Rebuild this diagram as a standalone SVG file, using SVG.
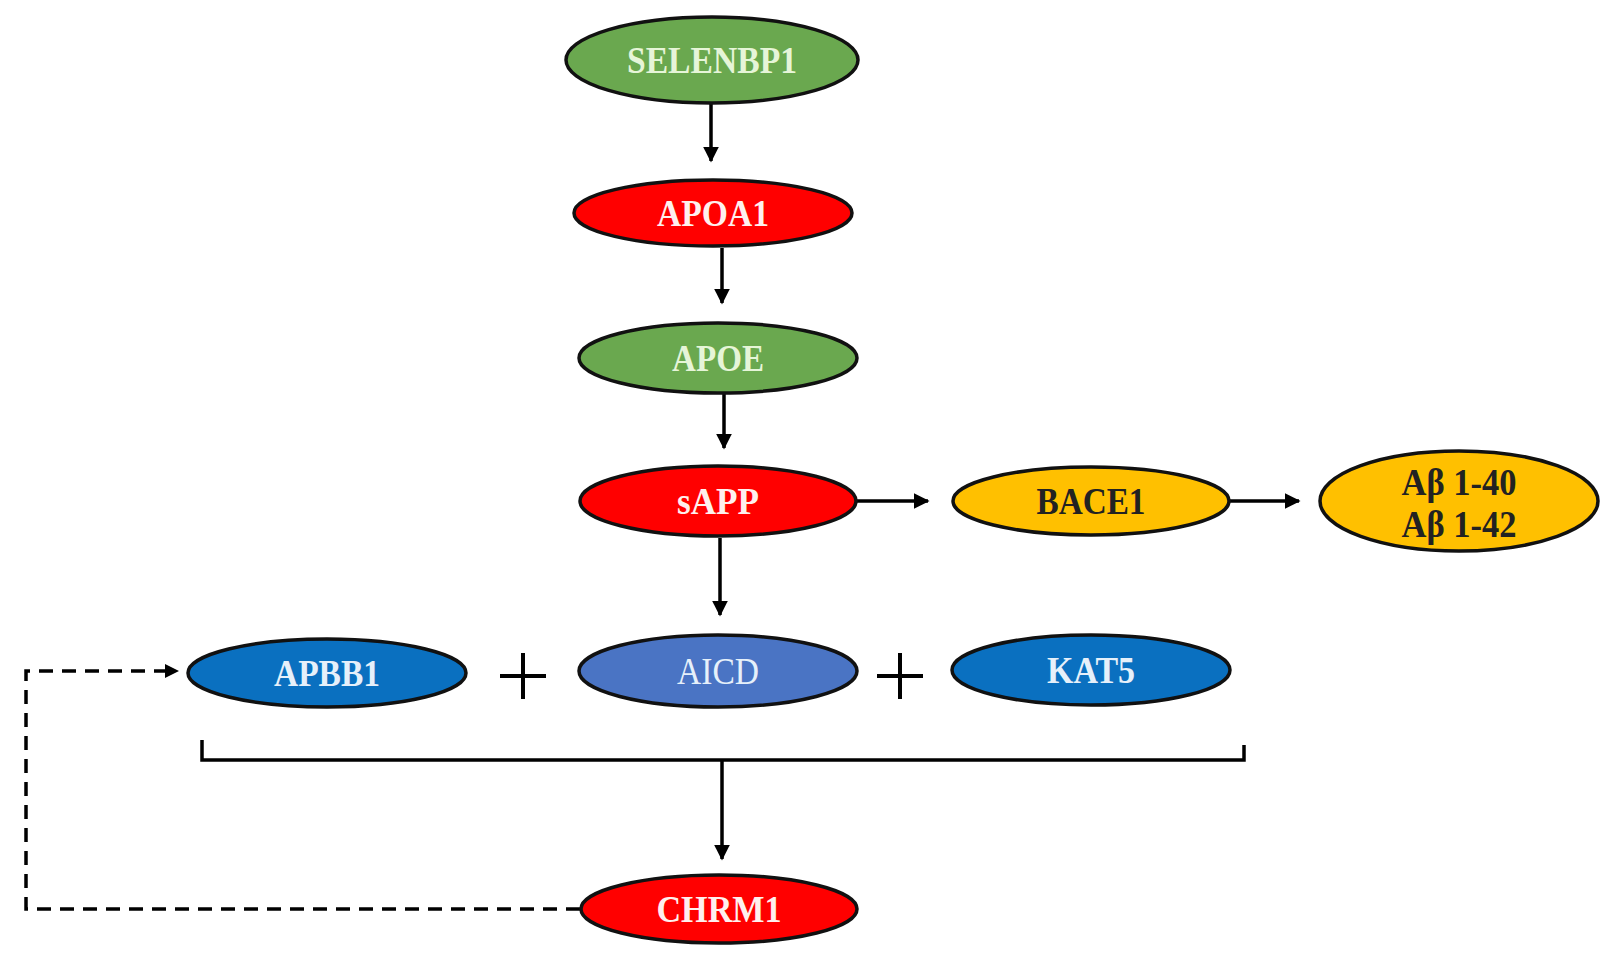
<svg xmlns="http://www.w3.org/2000/svg" width="1607" height="956" viewBox="0 0 1607 956">
<defs>
<marker id="ah" viewBox="0 0 10 10" refX="9" refY="5" markerWidth="4.5" markerHeight="4.5" orient="auto" markerUnits="strokeWidth">
<path d="M0,0 L10,5 L0,10 z" fill="#000"/>
</marker>
<style>
.n{stroke:#111;stroke-width:3.5}
.g{fill:#6aa84f}
.r{fill:#ff0000}
.y{fill:#ffc000}
.b{fill:#0a70c0}
.b2{fill:#4a74c4}
text{font-family:"Liberation Serif","Times New Roman",serif;font-size:38px;font-weight:bold;text-anchor:middle}
.tg{fill:#e6f5d8}
.tr{fill:#fff0ee}
.tb{fill:#e6f0fa}
.ty{fill:#222}
.c{stroke:#000;stroke-width:3.5;fill:none}
.d{stroke:#000;stroke-width:3.5;fill:none;stroke-dasharray:14 9}
</style>
</defs>
<rect width="1607" height="956" fill="#fff"/>
<g id="connectors">
<line class="c" x1="711" y1="104" x2="711" y2="161" marker-end="url(#ah)"/>
<line class="c" x1="722" y1="248" x2="722" y2="303" marker-end="url(#ah)"/>
<line class="c" x1="724" y1="394" x2="724" y2="448" marker-end="url(#ah)"/>
<line class="c" x1="720" y1="538" x2="720" y2="615" marker-end="url(#ah)"/>
<line class="c" x1="857" y1="501" x2="928" y2="501" marker-end="url(#ah)"/>
<line class="c" x1="1230" y1="501" x2="1299" y2="501" marker-end="url(#ah)"/>
<path class="c" d="M202,740 V760 H1244 V745"/>
<line class="c" x1="722" y1="760" x2="722" y2="859" marker-end="url(#ah)"/>
<path class="d" d="M580,909 H26 V671 H170"/>
<path d="M165,664 L179,671 L165,678 z" fill="#000"/>
<path class="c" d="M500,676 H546 M523,653 V699" style="stroke-width:4"/>
<path class="c" d="M877,676 H923 M900,653 V699" style="stroke-width:4"/>
</g>
<g id="SELENBP1"><ellipse class="n g" cx="712" cy="60" rx="146" ry="43"/><text class="tg" x="712" y="73" textLength="170" lengthAdjust="spacingAndGlyphs">SELENBP1</text></g>
<g id="APOA1"><ellipse class="n r" cx="713" cy="213" rx="139" ry="33"/><text class="tr" x="713" y="226" textLength="112" lengthAdjust="spacingAndGlyphs">APOA1</text></g>
<g id="APOE"><ellipse class="n g" cx="718" cy="358" rx="139" ry="35"/><text class="tg" x="718" y="371" textLength="92" lengthAdjust="spacingAndGlyphs">APOE</text></g>
<g id="sAPP"><ellipse class="n r" cx="718" cy="501" rx="138" ry="35"/><text class="tr" x="718" y="514" textLength="82" lengthAdjust="spacingAndGlyphs">sAPP</text></g>
<g id="BACE1"><ellipse class="n y" cx="1091" cy="501" rx="138" ry="34"/><text class="ty" x="1091" y="514" textLength="109" lengthAdjust="spacingAndGlyphs">BACE1</text></g>
<g id="Abeta"><ellipse class="n y" cx="1459" cy="501" rx="139" ry="50"/><text class="ty" x="1459" y="495" textLength="115" lengthAdjust="spacingAndGlyphs">Aβ 1-40</text><text class="ty" x="1459" y="537" textLength="115" lengthAdjust="spacingAndGlyphs">Aβ 1-42</text></g>
<g id="APBB1"><ellipse class="n b" cx="327" cy="673" rx="139" ry="34"/><text class="tb" x="327" y="686" textLength="106" lengthAdjust="spacingAndGlyphs">APBB1</text></g>
<g id="AICD"><ellipse class="n b2" cx="718" cy="671" rx="139" ry="36"/><text class="tb" x="718" y="684" style="font-weight:normal" textLength="82" lengthAdjust="spacingAndGlyphs">AICD</text></g>
<g id="KAT5"><ellipse class="n b" cx="1091" cy="670" rx="139" ry="35"/><text class="tb" x="1091" y="683" textLength="88" lengthAdjust="spacingAndGlyphs">KAT5</text></g>
<g id="CHRM1"><ellipse class="n r" cx="719" cy="909" rx="138" ry="34"/><text class="tr" x="719" y="922" textLength="125" lengthAdjust="spacingAndGlyphs">CHRM1</text></g>
</svg>
